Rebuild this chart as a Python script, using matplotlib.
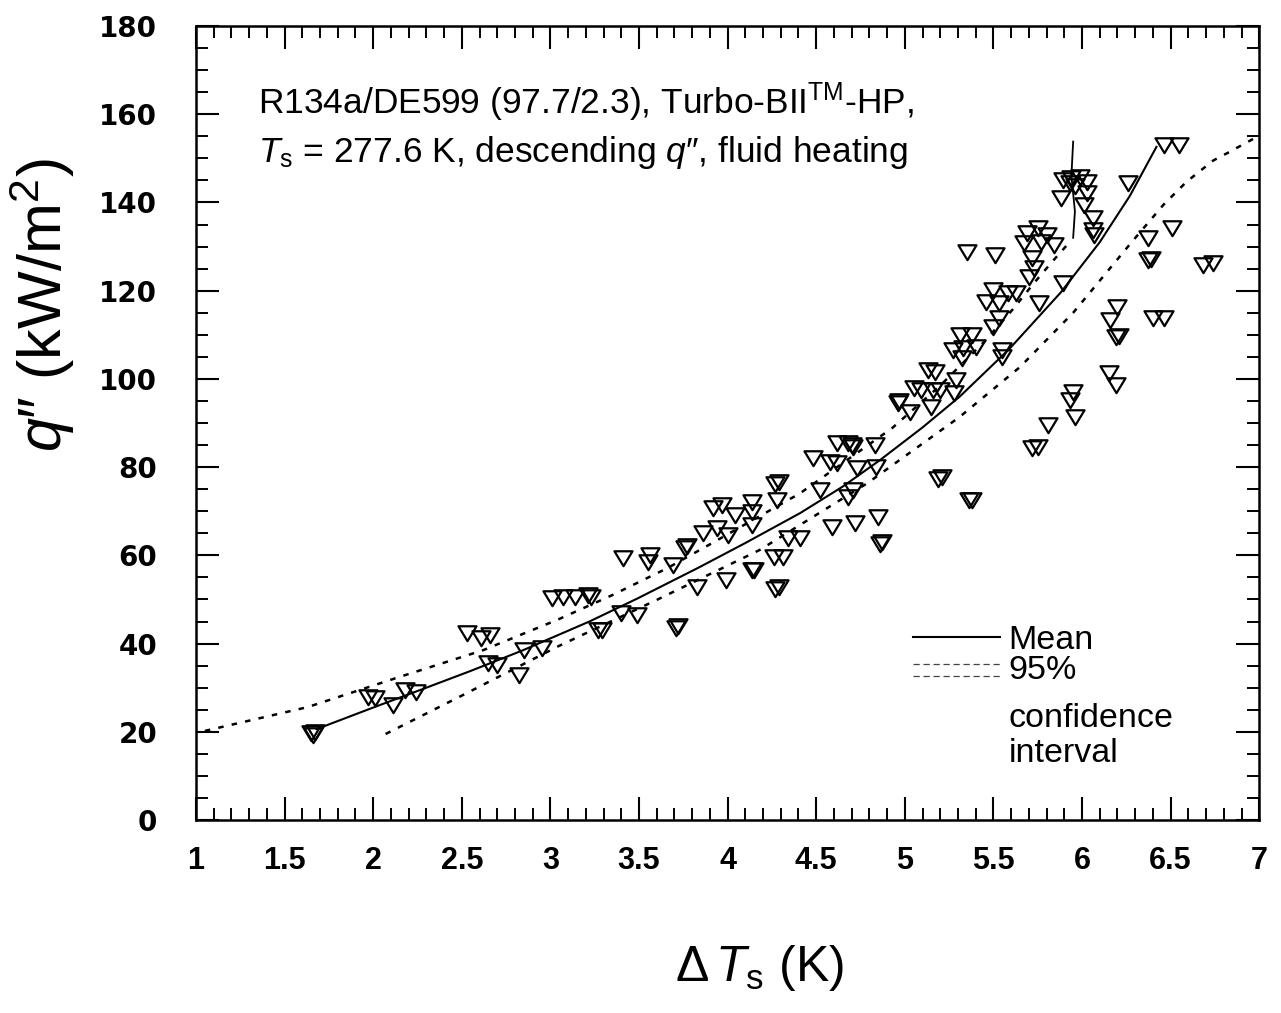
import matplotlib
matplotlib.use("Agg")
import matplotlib.pyplot as plt
from matplotlib.path import Path
from matplotlib.lines import Line2D
from matplotlib.ticker import MultipleLocator, FixedLocator, FixedFormatter

plt.rcParams['font.family'] = ['Liberation Sans', 'DejaVu Sans']
plt.rcParams['mathtext.fontset'] = 'custom'
plt.rcParams['mathtext.rm'] = 'Liberation Sans'
plt.rcParams['mathtext.it'] = 'Liberation Sans:italic'
plt.rcParams['mathtext.bf'] = 'Liberation Sans:bold'

# ---------------- data ----------------
dT = [1.65, 1.66, 1.67, 1.97, 2.01, 2.11, 2.18, 2.24, 2.53, 2.61, 2.66, 2.65, 2.70,
      2.85, 2.95, 2.82, 3.01, 3.07, 3.14, 3.21, 3.23, 3.27, 3.29, 3.40, 3.49,
      3.41, 3.56, 3.55, 3.69, 3.71, 3.72, 3.76, 3.77, 3.83, 3.86, 3.92, 3.97,
      3.94, 3.99, 4.00, 4.04, 4.14, 4.14, 4.14, 4.14, 4.15, 4.28, 4.27, 4.29,
      4.26, 4.31, 4.27, 4.29, 4.34, 4.41, 4.48, 4.52, 4.58, 4.62, 4.59, 4.62,
      4.68, 4.71, 4.70, 4.73, 4.71, 4.68, 4.72, 4.83, 4.84, 4.85, 4.86, 4.87,
      4.96, 4.97, 5.03, 5.05, 5.09, 5.13, 5.17, 5.16, 5.20, 5.15, 5.19, 5.21,
      5.29, 5.28, 5.27, 5.33, 5.40, 5.32, 5.31, 5.38, 5.50, 5.36, 5.38, 5.35,
      5.51, 5.55, 5.55, 5.50, 5.58, 5.63, 5.46, 5.53, 5.53, 5.76,
      5.69, 5.75, 5.80, 5.67, 5.77, 5.84, 5.72, 5.73, 5.70, 5.89,
      5.89, 5.94, 5.99, 6.03, 5.88, 6.03, 6.01, 6.06, 6.06, 6.07, 5.93, 5.96,
      6.46, 6.55, 6.26, 6.37, 6.51, 6.37, 6.39, 6.68, 6.74,
      6.20, 6.16, 6.19, 6.21, 6.40, 6.46, 6.15, 6.19, 5.95, 5.93, 5.96, 5.81,
      5.72, 5.75]
q = [19.7, 19.2, 19.9, 27.9, 27.7, 26.1, 29.5, 29.0, 42.4, 41.3, 42.0, 35.6, 35.1,
     38.5, 39.0, 32.9, 50.3, 50.6, 50.6, 51.0, 50.6, 43.1, 43.1, 46.9, 46.5,
     59.4, 60.1, 58.5, 57.8, 43.6, 44.0, 61.7, 62.1, 52.8, 65.1, 70.7, 71.4,
     66.2, 54.4, 64.6, 69.2, 69.8, 72.1, 66.9, 56.7, 56.7, 72.6, 76.2, 76.6,
     59.6, 59.6, 52.4, 52.8, 63.9, 63.9, 82.1, 74.8, 81.2, 81.0, 66.4, 85.5,
     85.5, 84.6, 85.0, 79.8, 74.8, 73.2, 67.3, 85.0, 80.0, 68.7, 62.6, 63.0,
     94.6, 95.0, 92.5, 98.0, 97.5, 102.0, 101.6, 97.5, 97.5, 93.7, 77.4, 77.8,
     99.8, 96.8, 106.6, 107.0, 107.3, 104.8, 110.0, 110.0, 111.8, 72.6, 72.6, 128.8,
     128.1, 106.6, 105.0, 120.2, 119.5, 119.5, 117.5, 117.2, 113.8, 117.2,
     133.1, 134.2, 132.7, 130.8, 131.1, 130.4, 127.4, 125.2, 123.1, 121.8,
     145.1, 145.6, 145.8, 144.7, 141.0, 142.2, 139.5, 136.5, 133.8, 132.7, 144.4, 143.8,
     153.1, 153.1, 144.4, 132.0, 134.2, 127.0, 127.2, 125.9, 126.3,
     116.3, 113.4, 109.5, 109.8, 113.8, 113.8, 101.4, 98.6, 97.1, 95.2, 91.4, 89.6,
     84.4, 84.6]

mean_x = [1.68, 2.00, 2.28, 2.55, 2.84, 3.22, 3.49, 3.84, 4.10, 4.41, 4.65, 4.86,
          5.10, 5.31, 5.59, 5.88, 6.10, 6.27, 6.42]
mean_y = [20.6, 25.5, 29.7, 33.8, 38.4, 45.0, 50.2, 57.3, 62.8, 69.6, 75.6, 81.6,
          89.0, 96.0, 106.8, 119.6, 131.0, 141.5, 152.6]

upper_x = [1.05, 1.63, 2.13, 2.62, 3.04, 3.35, 3.66, 3.90, 4.41, 4.93, 5.20, 5.45,
           5.61, 5.72, 5.83, 5.93]
upper_y = [20.2, 25.6, 32.2, 38.5, 45.4, 51.0, 57.1, 62.5, 74.1, 88.9, 98.5, 108.5,
           115.8, 121.3, 126.5, 131.0]

lower_x = [2.07, 2.50, 3.05, 3.60, 4.18, 4.79, 5.31, 5.65, 5.95, 6.28, 6.46, 6.59,
           6.74, 6.82, 6.97]
lower_y = [19.5, 28.2, 39.5, 49.9, 61.2, 76.4, 91.4, 102.7, 115.0, 131.0, 139.5,
           144.7, 149.5, 151.2, 154.5]

bar_x = [5.95, 5.94, 5.96, 5.95]
bar_y = [153.8, 146.0, 138.0, 132.0]

xtick_vals = [1, 1.5, 2, 2.5, 3, 3.5, 4, 4.5, 5, 5.5, 6, 6.5, 7]
xtick_labels = ['1', '1.5', '2', '2.5', '3', '3.5', '4', '4.5', '5', '5.5', '6', '6.5', '7']
ytick_vals = [0, 20, 40, 60, 80, 100, 120, 140, 160, 180]
ytick_labels = ['0', '20', '40', '60', '80', '100', '120', '140', '160', '180']

# ---------------- figure ----------------
fig = plt.figure(figsize=(12.81, 10.13), dpi=100)
ax = fig.add_axes([0.153, 0.1905, 0.830, 0.7838])

tri = Path([(-1, 0.8), (1, 0.8), (0, -0.85), (-1, 0.8)],
           [Path.MOVETO, Path.LINETO, Path.LINETO, Path.CLOSEPOLY])

ax.plot(dT, q, linestyle='none', marker=tri, markersize=13,
        markerfacecolor='none', markeredgecolor='black', markeredgewidth=1.6)
ax.plot(mean_x, mean_y, color='black', lw=1.5, solid_joinstyle='round')
ax.plot(upper_x, upper_y, color='black', lw=1.8, linestyle=(0, (2.2, 3.3)))
ax.plot(lower_x, lower_y, color='black', lw=1.8, linestyle=(0, (2.2, 3.3)))
ax.plot(bar_x, bar_y, color='black', lw=1.3)

ax.set_xlim(1, 7)
ax.set_ylim(0, 180)
ax.xaxis.set_major_locator(FixedLocator(xtick_vals))
ax.xaxis.set_major_formatter(FixedFormatter(xtick_labels))
ax.xaxis.set_minor_locator(MultipleLocator(0.1))
ax.yaxis.set_major_locator(FixedLocator(ytick_vals))
ax.yaxis.set_major_formatter(FixedFormatter(ytick_labels))
ax.yaxis.set_minor_locator(MultipleLocator(5))

for s in ax.spines.values():
    s.set_linewidth(1.8)

ax.tick_params(which='both', direction='in', top=True, right=True)
ax.tick_params(which='major', length=16.5, width=1.5)
ax.tick_params(which='minor', length=8.6, width=1.4)
ax.tick_params(axis='x', which='major', pad=19)
ax.tick_params(axis='y', which='major', pad=28)
for lab in ax.get_xticklabels():
    lab.set_fontfamily('Liberation Sans')
    lab.set_fontweight('bold')
    lab.set_fontsize(22)
for lab in ax.get_yticklabels():
    lab.set_fontfamily('DejaVu Sans')
    lab.set_fontweight('bold')
    lab.set_fontsize(20)

ax.set_xlabel(r'$\Delta\,T_{\mathrm{s}}$ (K)', fontsize=36)
ax.xaxis.set_label_coords(0.53, -0.155)
ax.set_ylabel("$q$\u2033 (kW/m$^{2}$)", fontsize=44)
ax.yaxis.set_label_coords(-0.112, 0.649)

ax.text(0.058, 0.889, r'R134a/DE599 (97.7/2.3), Turbo-BII$^{\mathrm{TM}}$-HP,',
        transform=ax.transAxes, fontsize=25.5, va='baseline', ha='left')
ax.text(0.058, 0.829, r"$T_{\mathrm{s}}$ = 277.6 K, descending $q$" + "\u2033, fluid heating",
        transform=ax.transAxes, fontsize=25.5, va='baseline', ha='left')

# legend (drawn manually to match layout)
leg_solid = Line2D([0.674, 0.756], [0.2305, 0.2305], transform=ax.transAxes,
                   color='black', lw=1.5)
leg_d1 = Line2D([0.674, 0.756], [0.1965, 0.1965], transform=ax.transAxes,
                color='#444444', lw=0.9, linestyle=(0, (5, 3)))
leg_d2 = Line2D([0.674, 0.756], [0.1814, 0.1814], transform=ax.transAxes,
                color='#444444', lw=0.9, linestyle=(0, (5, 3)))
for ln in (leg_solid, leg_d1, leg_d2):
    ax.add_line(ln)
for txt, yy in [('Mean', 0.216), ('95%', 0.178), ('confidence', 0.117), ('interval', 0.073)]:
    ax.text(0.764, yy, txt, transform=ax.transAxes, fontsize=24.5, va='baseline', ha='left')

fig.savefig('out.png', dpi=100)
